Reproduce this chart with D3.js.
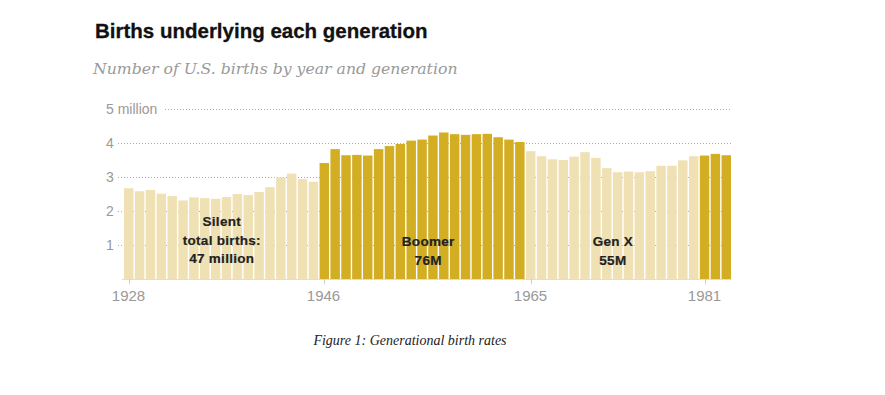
<!DOCTYPE html>
<html>
<head>
<meta charset="utf-8">
<script src="https://cdn.jsdelivr.net/npm/d3@7"></script>
<style>
  body { margin: 0; background: #fff; }
  svg { display: block; }
</style>
</head>
<body>
<svg id="chart" width="885" height="395"></svg>
<script>
// ── Data: U.S. births (millions) by year ──
const years = d3.range(1928, 1984);
const births = [
  2.67, 2.58, 2.62, 2.51, 2.44, 2.31, 2.40, 2.38, 2.36, 2.41,
  2.50, 2.47, 2.56, 2.70, 2.99, 3.10, 2.94, 2.86,
  3.41, 3.82, 3.64, 3.65, 3.63, 3.82, 3.91, 3.97, 4.07, 4.10,
  4.22, 4.31, 4.26, 4.24, 4.26, 4.27, 4.17, 4.10, 4.03,
  3.76, 3.61, 3.52, 3.50, 3.60, 3.73, 3.56, 3.26, 3.14, 3.16,
  3.14, 3.17, 3.33, 3.33, 3.49, 3.61,
  3.63, 3.68, 3.64
];
const generations = [
  { name: "Silent", start: 1928, end: 1945, dark: false },
  { name: "Boomer", start: 1946, end: 1964, dark: true },
  { name: "Gen X", start: 1965, end: 1980, dark: false },
  { name: "Millennial", start: 1981, end: 1983, dark: true }
];
const xTicks = [1928, 1946, 1965, 1981];
const yTicks = [1, 2, 3, 4, 5];
const labels = [
  { year: 1936.5, lines: ["Silent", "total births:", "47 million"] },
  { year: 1955.5, lines: ["Boomer", "76M"] },
  { year: 1972.5, lines: ["Gen X", "55M"] }
];

const C = { light: "#efe1b3", dark: "#d3ad22", grid: "#aaa", axis: "#999", base: "#ddd" };
const SANS = "Liberation Sans, Arial, sans-serif";

const svg = d3.select("#chart");

// ── Titles ──
svg.append("text")
  .attr("x", 95).attr("y", 38)
  .attr("font-family", SANS)
  .attr("font-weight", "bold")
  .attr("font-size", 20.5)
  .attr("fill", "#111")
  .attr("stroke", "#111")
  .attr("stroke-width", 0.3)
  .text("Births underlying each generation");

svg.append("text")
  .attr("x", 93).attr("y", 74)
  .attr("font-family", "DejaVu Serif, Georgia, serif")
  .attr("font-style", "italic")
  .attr("font-size", 15.7)
  .attr("fill", "#999")
  .text("Number of U.S. births by year and generation");

// ── Scales ──
const x = d3.scaleBand().domain(years).range([124, 731]).paddingInner(0.13).paddingOuter(0);
const y = d3.scaleLinear().domain([0, 5]).range([279, 109]);

const genOf = (yr) => generations.find((g) => yr >= g.start && yr <= g.end);

// ── Gridlines ──
svg.append("g")
  .selectAll("line")
  .data(yTicks)
  .join("line")
  .attr("x1", (d) => (d === 5 ? 165 : 118))
  .attr("x2", 732)
  .attr("y1", (d) => y(d) + 0.5)
  .attr("y2", (d) => y(d) + 0.5)
  .attr("stroke", C.grid)
  .attr("stroke-width", 1)
  .attr("stroke-dasharray", "1,2");

svg.append("g")
  .selectAll("text")
  .data(yTicks)
  .join("text")
  .attr("x", 106)
  .attr("y", (d) => y(d) + 5)
  .attr("font-family", SANS)
  .attr("font-size", 14)
  .attr("fill", C.axis)
  .text((d) => (d === 5 ? "5 million" : d));

// ── Bars ──
svg.append("g")
  .selectAll("rect")
  .data(years.map((yr, i) => ({ yr, v: births[i] })))
  .join("rect")
  .attr("x", (d) => x(d.yr))
  .attr("width", x.bandwidth())
  .attr("y", (d) => y(d.v))
  .attr("height", (d) => y(0) - y(d.v))
  .attr("fill", (d) => (genOf(d.yr).dark ? C.dark : C.light));

// ── Baseline + x axis ──
svg.append("line")
  .attr("x1", 122).attr("x2", 731)
  .attr("y1", y(0) + 0.5).attr("y2", y(0) + 0.5)
  .attr("stroke", C.base);

const tickG = svg.append("g")
  .selectAll("g")
  .data(xTicks)
  .join("g")
  .attr("transform", (d) => `translate(${Math.round(x(d) + x.bandwidth() / 2) + 0.5},${y(0)})`);

tickG.append("line").attr("y1", 0).attr("y2", 5).attr("stroke", "#ccc");
tickG.append("text")
  .attr("x", -1)
  .attr("y", 22)
  .attr("text-anchor", "middle")
  .attr("font-family", SANS)
  .attr("font-size", 15)
  .attr("fill", C.axis)
  .text((d) => d);

// ── Generation labels ──
labels.forEach((lab) => {
  const cx = x(Math.floor(lab.year)) + (lab.year % 1 ? x.step() : x.bandwidth() / 2);
  const t = svg.append("text")
    .attr("text-anchor", "middle")
    .attr("font-family", SANS)
    .attr("font-weight", "bold")
    .attr("font-size", 13.5)
    .attr("letter-spacing", 0.3)
    .attr("fill", "#222")
    .attr("stroke", "#222")
    .attr("stroke-width", 0.2);
  const y0 = lab.lines.length === 3 ? 226 : 246;
  lab.lines.forEach((s, i) => {
    t.append("tspan").attr("x", cx).attr("y", y0 + i * 18.5).text(s);
  });
});

// ── Caption ──
svg.append("text")
  .attr("x", 410).attr("y", 345)
  .attr("text-anchor", "middle")
  .attr("font-family", "Liberation Serif, Times New Roman, serif")
  .attr("font-style", "italic")
  .attr("font-size", 14)
  .attr("fill", "#222")
  .text("Figure 1:  Generational birth rates");
</script>
</body>
</html>
